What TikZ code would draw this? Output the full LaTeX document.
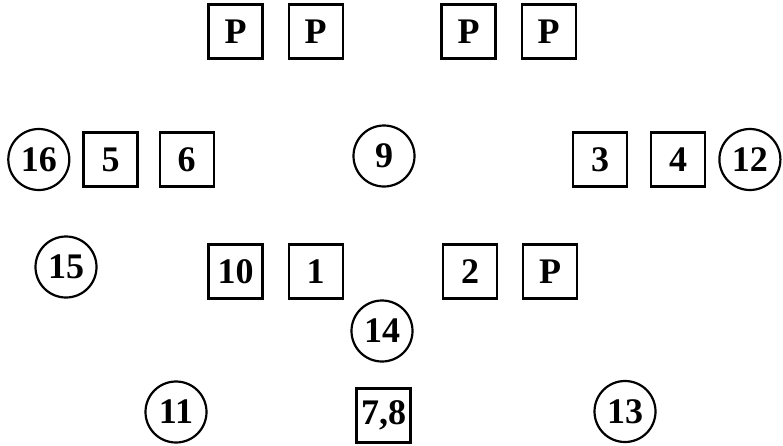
\documentclass[tikz,border=0pt]{standalone}
\usepackage{fontspec}
\setmainfont{Liberation Serif}
\usetikzlibrary{positioning}

\begin{document}
\begin{tikzpicture}[
  x=1pt, y=-1pt,
  node distance=24pt and 24pt,
  every node/.style={font=\fontsize{36}{36}\selectfont\bfseries, inner sep=0pt},
  seat/.style={draw, rectangle, line width=2.2pt, minimum size=54pt},
  ring/.style={draw, circle, line width=2.2pt, minimum size=61pt}
]
  \useasboundingbox (0,0) rectangle (783,445);

  % top row
  \node[seat] (p1) at (235.5,31.5) {P};
  \node[seat, right=of p1] (p2) {P};
  \node[seat] (p3) at (468.5,31.5) {P};
  \node[seat, right=of p3] (p4) {P};

  % second row
  \node[seat] (s5) at (110.5,159.5) {5};
  \node[ring, left=12pt of s5] (r16) {16};
  \node[seat, right=20pt of s5] (s6) {6};
  \node[ring] (r9) at (384,156) {9};
  \node[seat] (s3) at (600,159.5) {3};
  \node[seat, right=22pt of s3] (s4) {4};
  \node[ring, right=12pt of s4] (r12) {12};

  % third row
  \node[ring] (r15) at (66,267) {15};
  \node[seat] (s10) at (235.5,271.5) {10};
  \node[seat, right=of s10] (s1) {1};
  \node[seat] (s2) at (470,271.5) {2};
  \node[seat, right=of s2] (s2p) {P};
  \node[ring] (r14) at (382,331) {14};

  % bottom row
  \node[ring] (r11) at (176,412) {11};
  \node[seat] (s78) at (383.5,415.5) {7,8};
  \node[ring] (r13) at (625,411.5) {13};
\end{tikzpicture}
\end{document}
